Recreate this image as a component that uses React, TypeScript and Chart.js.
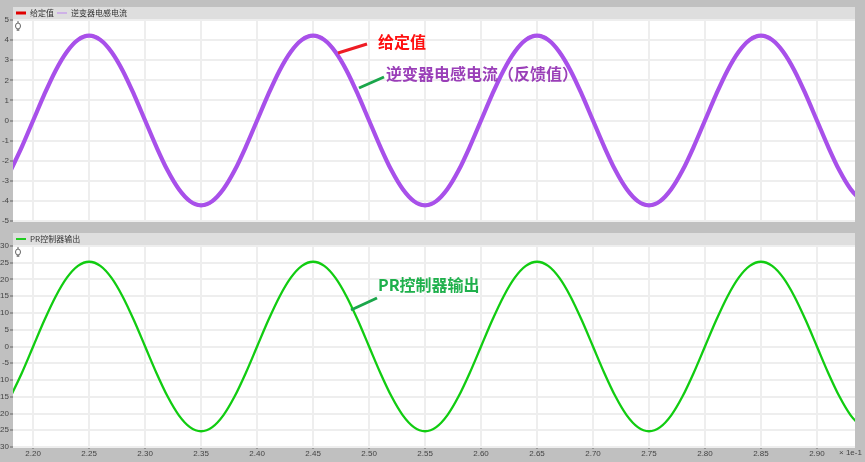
import React, { useEffect, useRef } from "react";
import { Chart, registerables } from "chart.js";

Chart.register(...registerables);

// ---- data (time axis shown in units of 1e-1 s) ----
const xValues = [
  2.18, 2.19,
  2.20, 2.21, 2.22, 2.23, 2.24, 2.25, 2.26, 2.27, 2.28, 2.29,
  2.30, 2.31, 2.32, 2.33, 2.34, 2.35, 2.36, 2.37, 2.38, 2.39,
  2.40, 2.41, 2.42, 2.43, 2.44, 2.45, 2.46, 2.47, 2.48, 2.49,
  2.50, 2.51, 2.52, 2.53, 2.54, 2.55, 2.56, 2.57, 2.58, 2.59,
  2.60, 2.61, 2.62, 2.63, 2.64, 2.65, 2.66, 2.67, 2.68, 2.69,
  2.70, 2.71, 2.72, 2.73, 2.74, 2.75, 2.76, 2.77, 2.78, 2.79,
  2.80, 2.81, 2.82, 2.83, 2.84, 2.85, 2.86, 2.87, 2.88, 2.89,
  2.90, 2.91, 2.92, 2.93, 2.94,
];

const setpointValues = [
  -2.5, -1.31,
  0, 1.31, 2.5, 3.44, 4.04, 4.25, 4.04, 3.44, 2.5, 1.31,
  0, -1.31, -2.5, -3.44, -4.04, -4.25, -4.04, -3.44, -2.5, -1.31,
  0, 1.31, 2.5, 3.44, 4.04, 4.25, 4.04, 3.44, 2.5, 1.31,
  0, -1.31, -2.5, -3.44, -4.04, -4.25, -4.04, -3.44, -2.5, -1.31,
  0, 1.31, 2.5, 3.44, 4.04, 4.25, 4.04, 3.44, 2.5, 1.31,
  0, -1.31, -2.5, -3.44, -4.04, -4.25, -4.04, -3.44, -2.5, -1.31,
  0, 1.31, 2.5, 3.44, 4.04, 4.25, 4.04, 3.44, 2.5, 1.31,
  0, -1.31, -2.5, -3.44, -4.04,
];

const feedbackValues = [
  -2.48, -1.3,
  0, 1.3, 2.48, 3.41, 4.01, 4.22, 4.01, 3.41, 2.48, 1.3,
  0, -1.3, -2.48, -3.41, -4.01, -4.22, -4.01, -3.41, -2.48, -1.3,
  0, 1.3, 2.48, 3.41, 4.01, 4.22, 4.01, 3.41, 2.48, 1.3,
  0, -1.3, -2.48, -3.41, -4.01, -4.22, -4.01, -3.41, -2.48, -1.3,
  0, 1.3, 2.48, 3.41, 4.01, 4.22, 4.01, 3.41, 2.48, 1.3,
  0, -1.3, -2.48, -3.41, -4.01, -4.22, -4.01, -3.41, -2.48, -1.3,
  0, 1.3, 2.48, 3.41, 4.01, 4.22, 4.01, 3.41, 2.48, 1.3,
  0, -1.3, -2.48, -3.41, -4.01,
];

const prOutputValues = [
  -14.87, -7.82,
  0, 7.82, 14.87, 20.47, 24.06, 25.3, 24.06, 20.47, 14.87, 7.82,
  0, -7.82, -14.87, -20.47, -24.06, -25.3, -24.06, -20.47, -14.87, -7.82,
  0, 7.82, 14.87, 20.47, 24.06, 25.3, 24.06, 20.47, 14.87, 7.82,
  0, -7.82, -14.87, -20.47, -24.06, -25.3, -24.06, -20.47, -14.87, -7.82,
  0, 7.82, 14.87, 20.47, 24.06, 25.3, 24.06, 20.47, 14.87, 7.82,
  0, -7.82, -14.87, -20.47, -24.06, -25.3, -24.06, -20.47, -14.87, -7.82,
  0, 7.82, 14.87, 20.47, 24.06, 25.3, 24.06, 20.47, 14.87, 7.82,
  0, -7.82, -14.87, -20.47, -24.06,
];

const xTickValues = [2.2, 2.25, 2.3, 2.35, 2.4, 2.45, 2.5, 2.55, 2.6, 2.65, 2.7, 2.75, 2.8, 2.85, 2.9];
const xMin = 2.182;
const xMax = 2.934;
const topYRange = [-5, 5];
const topYStep = 1;
const bottomYRange = [-30, 30];
const bottomYStep = 5;

const topSeriesNames = ["给定值", "逆变器电感电流"];
const bottomSeriesNames = ["PR控制器输出"];
const xUnitLabel = "× 1e-1";
const annoSetpoint = "给定值";
const annoFeedback = "逆变器电感电流（反馈值）";
const annoPR = "PR控制器输出";

// ---- styling ----
const GRID = "#eeeeee";
const TICK_FONT = { family: "'Liberation Sans Narrow', 'Liberation Sans', sans-serif", size: 8 };
const X_TICK_FONT = { family: "'Liberation Sans', sans-serif", size: 8 };
const LEGEND_FONT = { family: "'Noto Sans CJK SC', sans-serif", size: 8 };

const panelPlugin = {
  id: "panelBg",
  beforeDraw(chart: any) {
    const { ctx, chartArea: a } = chart;
    ctx.save();
    ctx.fillStyle = "#dedede";
    ctx.fillRect(a.left, a.top - 13, a.right - a.left, 13);
    ctx.fillStyle = "#ffffff";
    ctx.fillRect(a.left, a.top, a.right - a.left, a.bottom - a.top);
    ctx.restore();
  },
  afterDraw(chart: any) {
    const { ctx, chartArea: a } = chart;
    const cx = a.left + 5;
    const cy = a.top + 6;
    ctx.save();
    ctx.strokeStyle = "#666";
    ctx.lineWidth = 1;
    ctx.beginPath();
    ctx.ellipse(cx, cy, 2.5, 3, 0, 0, Math.PI * 2);
    ctx.stroke();
    ctx.beginPath();
    ctx.moveTo(cx, cy - 5);
    ctx.lineTo(cx, cy - 3);
    ctx.moveTo(cx, cy + 3);
    ctx.lineTo(cx, cy + 5);
    ctx.moveTo(cx - 1.5, cy + 4);
    ctx.lineTo(cx + 1.5, cy + 4);
    ctx.stroke();
    ctx.restore();
  },
};

function makeOptions(
  yRange: number[],
  yStep: number,
  showX: boolean,
  padding: any,
  legendColors: string[],
  legendWidths: number[]
): any {
  return {
    responsive: false,
    animation: false,
    layout: { padding },
    plugins: {
      tooltip: { enabled: false },
      legend: {
        position: "top",
        align: "start",
        fullSize: false,
        maxHeight: 14,
        labels: {
          usePointStyle: true,
          pointStyleWidth: 10,
          boxHeight: 8,
          padding: 3,
          font: LEGEND_FONT,
          color: "#333",
          generateLabels: (chart: any) =>
            chart.data.datasets.map((ds: any, i: number) => ({
              text: ds.label,
              fillStyle: legendColors[i],
              strokeStyle: legendColors[i],
              lineWidth: legendWidths[i],
              pointStyle: "line",
              hidden: false,
              datasetIndex: i,
              fontColor: "#333",
            })),
        },
      },
    },
    elements: { point: { radius: 0 } },
    scales: {
      x: {
        type: "linear",
        min: xMin,
        max: xMax,
        afterBuildTicks: (s: any) => {
          s.ticks = xTickValues.map((v) => ({ value: v }));
        },
        afterFit: (s: any) => {
          s.height = showX ? 15 : 0;
        },
        ticks: {
          display: showX,
          autoSkip: false,
          maxRotation: 0,
          padding: 0,
          font: X_TICK_FONT,
          color: "#444",
          callback: (v: any) => Number(v).toFixed(2),
        },
        grid: {
          color: GRID,
          lineWidth: 2,
          drawTicks: showX,
          tickLength: 2,
          tickColor: "#666",
          tickWidth: 1,
        },
        border: { display: false },
      },
      y: {
        min: yRange[0],
        max: yRange[1],
        afterFit: (s: any) => {
          s.width = 13;
        },
        ticks: {
          stepSize: yStep,
          padding: 1,
          font: TICK_FONT,
          color: "#444",
        },
        grid: {
          color: GRID,
          lineWidth: 2,
          tickLength: 3,
          tickColor: "#666",
          tickWidth: 1,
        },
        border: { display: false },
      },
    },
  };
}

function TopChart() {
  const ref = useRef<HTMLCanvasElement | null>(null);
  useEffect(() => {
    if (!ref.current) return;
    const chart = new Chart(ref.current, {
      type: "line",
      data: {
        datasets: [
          {
            label: topSeriesNames[0],
            data: xValues.map((x, i) => ({ x, y: setpointValues[i] })),
            borderColor: "#e00000",
            borderWidth: 2,
            cubicInterpolationMode: "monotone",
            pointRadius: 0,
            order: 2,
          },
          {
            label: topSeriesNames[1],
            data: xValues.map((x, i) => ({ x, y: feedbackValues[i] })),
            borderColor: "rgb(168, 80, 234)",
            borderWidth: 4.2,
            cubicInterpolationMode: "monotone",
            pointRadius: 0,
            order: 1,
          },
        ],
      } as any,
      options: makeOptions(topYRange, topYStep, false, { top: 6, right: 10, bottom: 9, left: 0 }, ["#e00000", "#c9a3ea"], [3, 1.5]),
      plugins: [panelPlugin],
    });
    return () => chart.destroy();
  }, []);
  return <canvas ref={ref} width={865} height={230} style={{ position: "absolute", left: 0, top: 0, width: 865, height: 230 }} />;
}

function BottomChart() {
  const ref = useRef<HTMLCanvasElement | null>(null);
  useEffect(() => {
    if (!ref.current) return;
    const chart = new Chart(ref.current, {
      type: "line",
      data: {
        datasets: [
          {
            label: bottomSeriesNames[0],
            data: xValues.map((x, i) => ({ x, y: prOutputValues[i] })),
            borderColor: "#11cc11",
            borderWidth: 2.3,
            cubicInterpolationMode: "monotone",
            pointRadius: 0,
          },
        ],
      } as any,
      options: makeOptions(bottomYRange, bottomYStep, true, { top: 2, right: 10, bottom: 0, left: 0 }, ["#22cc22"], [2]),
      plugins: [panelPlugin],
    });
    return () => chart.destroy();
  }, []);
  return <canvas ref={ref} width={865} height={232} style={{ position: "absolute", left: 0, top: 230, width: 865, height: 232 }} />;
}

const annoText = (color: string): React.CSSProperties => ({
  position: "absolute",
  fontFamily: "'Noto Sans CJK SC', sans-serif",
  fontWeight: 700,
  fontSize: 16,
  lineHeight: "16px",
  color,
  whiteSpace: "nowrap",
});

export default function App() {
  return (
    <div
      style={{
        position: "fixed",
        left: 0,
        top: 0,
        width: 865,
        height: 462,
        background: "#c0c0c0",
        overflow: "hidden",
      }}
    >
      <TopChart />
      <BottomChart />
      <svg width={865} height={462} style={{ position: "absolute", left: 0, top: 0, pointerEvents: "none" }}>
        <line x1={338} y1={53} x2={367} y2={44} stroke="#ee1c24" strokeWidth={3} />
        <line x1={359} y1={88} x2={384} y2={77} stroke="#1aa64a" strokeWidth={3} />
        <line x1={351} y1={310} x2={377} y2={298} stroke="#1aa64a" strokeWidth={3} />
      </svg>
      <div style={{ ...annoText("#ff1010"), left: 378, top: 33 }}>{annoSetpoint}</div>
      <div style={{ ...annoText("#9a3fb8"), left: 386, top: 65 }}>{annoFeedback}</div>
      <div style={{ ...annoText("#1fb04c"), left: 378, top: 276 }}>{annoPR}</div>
      <div
        style={{
          position: "absolute",
          left: 839,
          top: 448,
          fontFamily: "'Liberation Sans', sans-serif",
          fontSize: 8,
          lineHeight: "10px",
          color: "#444",
          whiteSpace: "nowrap",
        }}
      >
        {xUnitLabel}
      </div>
    </div>
  );
}
